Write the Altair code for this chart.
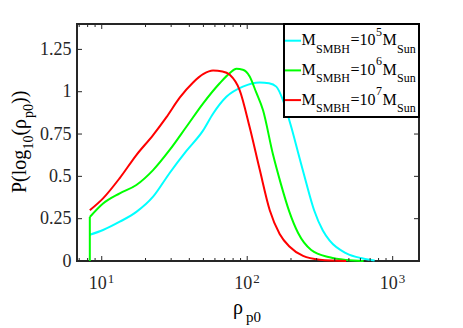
import altair as alt
import pandas as pd

# ---------------- data ----------------
series_names = ["M_SMBH=1e5 M_Sun", "M_SMBH=1e6 M_Sun", "M_SMBH=1e7 M_Sun"]
series_exp = ["5", "6", "7"]
series_colors = ["#00FFFF", "#00FF00", "#FF0000"]

rho_cyan = [8.28, 10.21, 13.30, 17.30, 22.54, 29.31, 38.19, 49.66, 58.21, 71.94,
            93.33, 121.9, 141.3, 158.5, 176.2, 199.5, 223.9, 251.2, 288.4, 331.1,
            369.0, 480.8, 625.2, 751.6]
p_cyan = [0.155, 0.183, 0.232, 0.29, 0.38, 0.52, 0.65, 0.77, 0.87, 0.97,
          1.03, 1.055, 1.05, 1.03, 0.95, 0.80, 0.64, 0.48, 0.30, 0.18,
          0.12, 0.045, 0.015, 0.003]

rho_green = [8.28, 10.21, 13.30, 17.30, 22.54, 29.31, 38.19, 49.66, 64.7, 75.9,
             84.3, 93.3, 104.0, 114.8, 128.5, 150.3, 169.8, 195.0, 223.9, 275.4,
             369.0, 478.6, 631.0]
p_green = [0.26, 0.34, 0.40, 0.449, 0.537, 0.656, 0.793, 0.93, 1.05, 1.11,
           1.135, 1.13, 1.09, 1.0, 0.89, 0.63, 0.46, 0.29, 0.165, 0.065,
           0.022, 0.006, 0.0]

rho_red = [8.28, 10.21, 13.30, 17.30, 22.54, 27.86, 34.36, 42.46, 50.1, 58.2,
           67.6, 75.9, 88.7, 104.0, 121.9, 142.9, 167.1, 195.9, 242.1, 316.0, 479.0]
p_red = [0.30, 0.37, 0.49, 0.626, 0.744, 0.85, 0.965, 1.055, 1.105, 1.125,
         1.12, 1.10, 1.01, 0.79, 0.54, 0.30, 0.16, 0.084, 0.03, 0.008, 0.0]

y_ticks = [0, 0.25, 0.5, 0.75, 1, 1.25]
x_major = [10, 100, 1000]
x_major_base = ["10", "10", "10"]
x_major_exp = ["1", "2", "3"]
x_minor = [7, 8, 9, 20, 30, 40, 50, 60, 70, 80, 90,
           200, 300, 400, 500, 600, 700, 800, 900]

# ---------------- layout ----------------
W, H = 342, 237
XDOM = [6.76, 1517]
YDOM = [0, 1.4]
FONT = "Liberation Serif"
INK = "#262626"

xs = alt.Scale(type="log", domain=XDOM, nice=False)
ys = alt.Scale(domain=YDOM, nice=False)
yaxis = alt.Axis(values=y_ticks, format=".3~g", labelFont=FONT, labelFontSize=18,
                 labelColor=INK, ticks=False, domain=False, grid=False,
                 labelPadding=6, title=None)

layers = []

def curve(rho, p, color):
    df = pd.DataFrame({"rho": rho, "p": p})
    return alt.Chart(df).mark_line(strokeWidth=2, interpolate="monotone", color=color).encode(
        x=alt.X("rho:Q", scale=xs, axis=None),
        y=alt.Y("p:Q", scale=ys, axis=yaxis),
    )

layers.append(curve(rho_cyan, p_cyan, series_colors[0]))
# green vertical start segment
gstart = pd.DataFrame({"rho": [rho_green[0]], "p0": [0.0], "p1": [p_green[0]]})
layers.append(alt.Chart(gstart).mark_rule(strokeWidth=2, color=series_colors[1]).encode(
    x=alt.X("rho:Q", scale=xs, axis=None),
    y=alt.Y("p0:Q", scale=ys, axis=yaxis), y2="p1:Q"))
layers.append(curve(rho_green, p_green, series_colors[1]))
layers.append(curve(rho_red, p_red, series_colors[2]))

# ticks (inward, all four sides)
def xticks(vals, ln):
    df = pd.DataFrame({"v": vals})
    b = alt.Chart(df).mark_rule(color=INK, strokeWidth=1).encode(
        x=alt.X("v:Q", scale=xs, axis=None), y=alt.value(H), y2=alt.value(H - ln))
    t = alt.Chart(df).mark_rule(color=INK, strokeWidth=1).encode(
        x=alt.X("v:Q", scale=xs, axis=None), y=alt.value(0), y2=alt.value(ln))
    return [b, t]

layers += xticks(x_major, 5)
layers += xticks(x_minor, 3)
ydf = pd.DataFrame({"v": y_ticks})
layers.append(alt.Chart(ydf).mark_rule(color=INK, strokeWidth=1).encode(
    y=alt.Y("v:Q", scale=ys, axis=yaxis), x=alt.value(0), x2=alt.value(5)))
layers.append(alt.Chart(ydf).mark_rule(color=INK, strokeWidth=1).encode(
    y=alt.Y("v:Q", scale=ys, axis=yaxis), x=alt.value(W - 5), x2=alt.value(W)))

# x tick labels 10^n
xl = pd.DataFrame({"v": x_major, "b": x_major_base, "e": x_major_exp})
layers.append(alt.Chart(xl).mark_text(font=FONT, fontSize=18, color=INK, align="right",
                                      baseline="alphabetic", dx=5).encode(
    x=alt.X("v:Q", scale=xs, axis=None), y=alt.value(265), text="b:N"))
layers.append(alt.Chart(xl).mark_text(font=FONT, fontSize=13, color=INK, align="left",
                                      baseline="alphabetic", dx=6).encode(
    x=alt.X("v:Q", scale=xs, axis=None), y=alt.value(258.5), text="e:N"))

one = pd.DataFrame({"a": [0]})

def txt(s, x, y, size, angle=0, color="black"):
    kw = dict(text=s, font=FONT, fontSize=size, color=color, align="left",
              baseline="alphabetic")
    if angle:
        kw["angle"] = angle
    return alt.Chart(one).mark_text(**kw).encode(x=alt.value(x), y=alt.value(y))

# x title  rho_p0
layers.append(txt("ρ", 156, 290, 20))
layers.append(txt("p0", 169, 297.5, 15))

# y title  P(log10(rho_p0)) rotated
ox, oy = -77, -24
yparts = [("P(log", 26, 193, 20), ("10", 32.5, 149.5, 14), ("(", 26, 135.5, 20),
          ("ρ", 26, 129, 20), ("p0", 32.5, 118, 14), ("))", 26, 104, 20)]
for s, x, y, size in yparts:
    layers.append(txt(s, x + ox, y + oy, size, angle=270))

# legend box
layers.append(alt.Chart(one).mark_rect(fill="white", stroke="black", strokeWidth=2).encode(
    x=alt.value(207), x2=alt.value(W), y=alt.value(0), y2=alt.value(93)))
for i, (nm, ex, col) in enumerate(zip(series_names, series_exp, series_colors)):
    ly = 16.7 + 29.7 * i
    layers.append(alt.Chart(one).mark_rule(color=col, strokeWidth=2).encode(
        x=alt.value(208), x2=alt.value(224), y=alt.value(ly)))
    layers.append(txt("M", 224.5, ly + 4.5, 16))
    layers.append(txt("SMBH", 239, ly + 12, 12))
    layers.append(txt("=10", 273.5, ly + 4.5, 16))
    layers.append(txt(ex, 299, ly - 5, 12))
    layers.append(txt("M", 305.5, ly + 4.5, 16))
    layers.append(txt("Sun", 320, ly + 12, 12))

chart = alt.layer(*layers).properties(
    width=W, height=H,
    autosize=alt.AutoSizeParams(type="none"),
    padding={"left": 69, "top": 16, "right": 30, "bottom": 67},
).configure_view(stroke=INK, strokeWidth=2)

chart.save("out.html", embed_options={"renderer": "svg", "actions": False})
